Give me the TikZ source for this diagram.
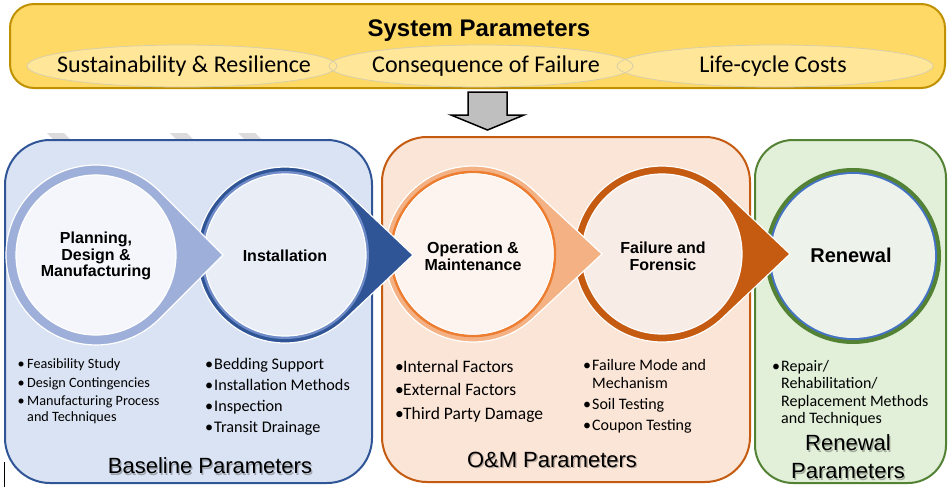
\documentclass[tikz,border=0pt]{standalone}
\usepackage{fontspec}
\setmainfont{Liberation Sans}
\newfontfamily\calfont{Carlito}
\usetikzlibrary{calc}

\definecolor{sysfill}{HTML}{FFD966}
\definecolor{sysline}{HTML}{BF9000}
\definecolor{ellfill}{HTML}{FFE699}
\definecolor{ellline}{HTML}{D8CFA9}
\definecolor{bluebox}{HTML}{DAE3F3}
\definecolor{blueline}{HTML}{2F5597}
\definecolor{orangebox}{HTML}{FBE5D6}
\definecolor{orangeline}{HTML}{C55A11}
\definecolor{greenbox}{HTML}{E2F0D9}
\definecolor{greenline}{HTML}{548235}
\definecolor{ringA}{HTML}{9EAFDA}
\definecolor{innerA}{HTML}{F4F6FB}
\definecolor{ringB}{HTML}{2F5597}
\definecolor{ringBlight}{HTML}{6F8CC9}
\definecolor{innerB}{HTML}{E9EDF6}
\definecolor{ringC}{HTML}{F4B183}
\definecolor{lineC}{HTML}{ED7D31}
\definecolor{innerC}{HTML}{FDF4EF}
\definecolor{ringD}{HTML}{C55A11}
\definecolor{innerD}{HTML}{F8ECE6}
\definecolor{ringE}{HTML}{548235}
\definecolor{lineE}{HTML}{4472C4}
\definecolor{innerE}{HTML}{EDF3EA}
\definecolor{stripe}{HTML}{DCDCDC}
\definecolor{arrowgray}{HTML}{BFBFBF}

% circle with a pointed tip on its right: centre x, centre y, radius, tip x, style
\newcommand\teardrop[5]{%
  \pgfmathsetmacro\tdang{acos(#3/(#4-#1))}%
  \path[#5] (#4,#2) -- ([shift={(\tdang:#3pt)}]#1,#2)
    arc[start angle=\tdang, end angle={360-\tdang}, radius=#3pt] -- cycle;
}
% bullet item with a hanging bullet of given width
\newcommand\bul[2]{\makebox[#1][l]{\textbullet}#2}

\tikzset{
  panel/.style={line width=2pt, rounded corners=#1},
  elltext/.style={font=\calfont\fontsize{24}{28}\selectfont, inner sep=0},
  stage/.style={align=center, inner sep=0, font=\bfseries\fontsize{16}{16.8}\selectfont},
  bullets/.style={anchor=north west, align=left, inner sep=0},
  paneltitle/.style={inner sep=0, font=\fontsize{22}{28}\selectfont, align=center},
  titleshadow/.style={paneltitle, text=black, text opacity=0.28, xshift=1.3pt, yshift=-1.3pt},
  rim/.style={draw=white, line width=1.2pt},
}

\begin{document}
\begin{tikzpicture}[x=1pt, y=1pt]
\useasboundingbox (0,0) rectangle (951,-490);

% ---- system parameters banner
\draw[panel=24pt, fill=sysfill, draw=sysline] (10,-4) rectangle (945,-88);
\fill[ellfill] (182,-66) ellipse[x radius=155pt, y radius=21pt];
\fill[ellfill] (481,-66) ellipse[x radius=152pt, y radius=21pt];
\fill[ellfill] (775,-66) ellipse[x radius=158pt, y radius=21pt];
\draw[ellline, line width=0.8pt] (182,-66) ellipse[x radius=155pt, y radius=21pt];
\draw[ellline, line width=0.8pt] (481,-66) ellipse[x radius=152pt, y radius=21pt];
\draw[ellline, line width=0.8pt] (775,-66) ellipse[x radius=158pt, y radius=21pt];
\node[font=\bfseries\fontsize{24}{28}\selectfont, inner sep=0] (sys) at (479,-31) {System Parameters};
\node[elltext] (sust) at (184,-66) {Sustainability \& Resilience};
\node[elltext] (cons) at (486,-66) {Consequence of Failure};
\node[elltext] (life) at (773,-66) {Life-cycle Costs};

% ---- downward block arrow
\draw[fill=arrowgray, line width=1.5pt, line join=miter]
  (468,-92) -- (507,-92) -- (507,-115) -- (524,-115) -- (487.5,-130)
  -- (451,-115) -- (468,-115) -- cycle;

% ---- faint stripes behind the baseline panel
\fill[stripe] (47,-133) -- (64,-133) -- (72,-141) -- (55,-141) -- cycle;
\fill[stripe] (170,-133) -- (187,-133) -- (195,-141) -- (178,-141) -- cycle;
\fill[stripe] (238,-133) -- (255,-133) -- (263,-141) -- (246,-141) -- cycle;

% ---- parameter panels
\draw[panel=45pt, fill=bluebox, draw=blueline] (5,-140) rectangle (372,-483);
\draw[panel=45pt, fill=orangebox, draw=orangeline] (382,-137) rectangle (750,-482);
\draw[panel=38pt, fill=greenbox, draw=greenline] (755,-140) rectangle (946,-483);

% ---- stage circles, right to left so each tip lies over its neighbour
% renewal
\fill[ringE] (853,-256) circle[radius=88pt];
\fill[lineE] (853,-256) circle[radius=84pt];
\fill[innerE] (853,-256) circle[radius=82pt];
% failure and forensic
\teardrop{662}{-254}{88}{790}{fill=ringD, rim}
\draw[fill=innerD, rim] (662,-254) circle[radius=80pt];
% operation and maintenance
\teardrop{473}{-254}{88}{602}{fill=ringC, rim}
\draw[fill=innerC, draw=lineC, line width=2.5pt] (473,-254) circle[radius=82pt];
\draw[rim, line width=0.8pt] (473,-254) circle[radius=80.2pt];
% installation
\teardrop{285}{-255}{88}{413}{fill=ringB, rim}
\fill[ringBlight] (285,-255) circle[radius=84pt];
\draw[fill=innerB, rim] (285,-255) circle[radius=81pt];
% planning, design and manufacturing
\teardrop{96}{-255}{90}{223}{fill=ringA, rim}
\draw[fill=innerA, rim] (96,-255) circle[radius=80pt];

% ---- stage labels
\node[stage] (plan) at (96,-256) {Planning,\\Design \&\\Manufacturing};
\node[stage] (inst) at (285,-256) {Installation};
\node[stage] (om) at (473,-256) {Operation \&\\Maintenance};
\node[stage] (fail) at (663,-256) {Failure and\\Forensic};
\node[stage, font=\bfseries\fontsize{20}{22}\selectfont] (ren) at (851,-255) {Renewal};

% ---- bullet lists
\node[bullets, font=\calfont\fontsize{14.2}{16}\selectfont] (planlist) at (17.5,-358.5)
  {\bul{9.5pt}{Feasibility Study}\\[2.5pt]
   \bul{9.5pt}{Design Contingencies}\\[2.5pt]
   \bul{9.5pt}{Manufacturing Process}\\
   \hspace*{9.5pt}and Techniques};
\node[bullets, font=\calfont\fontsize{16.2}{21}\selectfont] (instlist) at (205,-358.5)
  {\bul{9pt}{Bedding Support}\\
   \bul{9pt}{Installation Methods}\\
   \bul{9pt}{Inspection}\\
   \bul{9pt}{Transit Drainage}};
\node[bullets, font=\calfont\fontsize{17.5}{23.5}\selectfont] (omlist) at (395,-360)
  {\bul{8pt}{Internal Factors}\\
   \bul{8pt}{External Factors}\\
   \bul{8pt}{Third Party Damage}};
\node[bullets, font=\calfont\fontsize{16}{18}\selectfont] (faillist) at (583,-359)
  {\bul{9pt}{Failure Mode and}\\
   \hspace*{9pt}Mechanism\\[3pt]
   \bul{9pt}{Soil Testing}\\[3pt]
   \bul{9pt}{Coupon Testing}};
\node[bullets, font=\calfont\fontsize{16}{17.5}\selectfont] (renlist) at (772,-360)
  {\bul{9pt}{Repair/}\\
   \hspace*{9pt}Rehabilitation/\\
   \hspace*{9pt}Replacement Methods\\
   \hspace*{9pt}and Techniques};

% ---- panel titles with a soft drop shadow
\node[titleshadow] (basetitleshade) at (210,-466) {Baseline Parameters};
\node[titleshadow] (omtitleshade) at (552,-460) {O\&M Parameters};
\node[titleshadow] (rentitleshade) at (848,-457) {Renewal\\Parameters};
\node[paneltitle] (basetitle) at (210,-466) {Baseline Parameters};
\node[paneltitle] (omtitle) at (552,-460) {O\&M Parameters};
\node[paneltitle] (rentitle) at (848,-457) {Renewal\\Parameters};

% ---- text cursor mark at the lower left
\draw[line width=0.8pt] (4,-462) -- (4,-487);
\end{tikzpicture}
\end{document}
